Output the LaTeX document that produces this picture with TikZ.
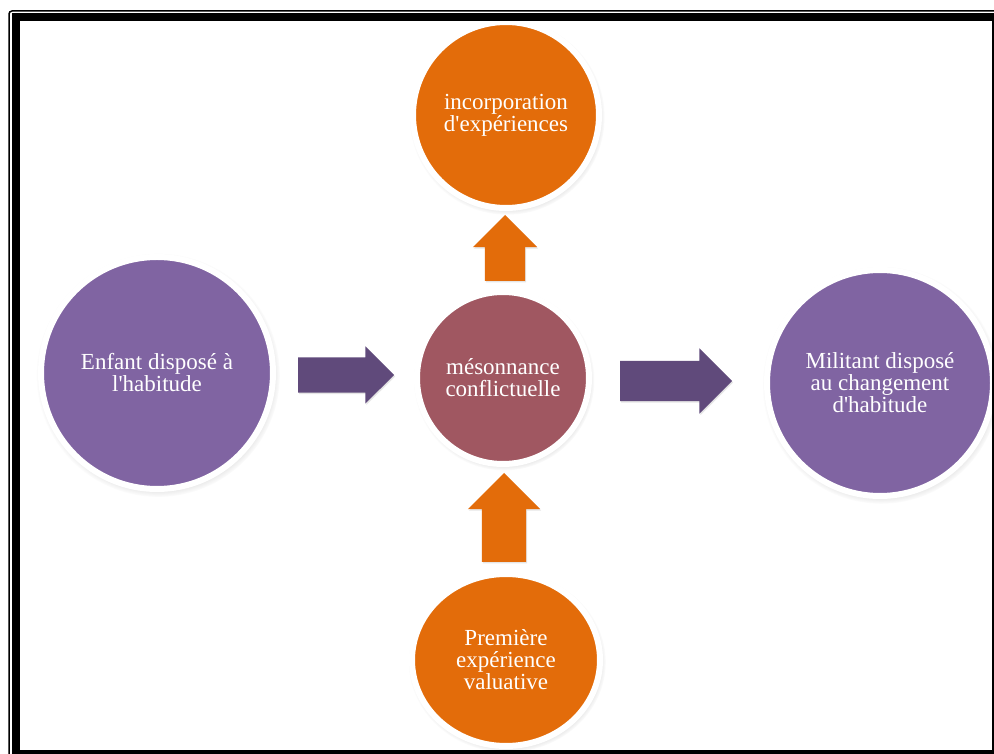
\documentclass[tikz,border=0pt]{standalone}
\usepackage{fontspec}
\setmainfont{Liberation Serif}
\usetikzlibrary{shapes.geometric,shapes.arrows,shadows,calc}

\begin{document}
\begin{tikzpicture}[x=1pt,y=1pt,
  bubble/.style={circle,draw=white,line width=6pt,text=white,align=center,
    font=\fontsize{23}{22}\selectfont,inner sep=0pt,outer sep=0pt,
    circular drop shadow={shadow scale=1.05,shadow xshift=1pt,shadow yshift=-2pt,opacity=0.45}},
  blockarrow/.style={single arrow,outer sep=0pt,anchor=tip,
    single arrow tip angle=90,
    drop shadow={shadow xshift=1pt,shadow yshift=-1.5pt,opacity=0.2}}]
\definecolor{orangeColor}{RGB}{227,108,10}
\definecolor{purpleColor}{RGB}{128,100,162}
\definecolor{arrowColor}{RGB}{96,74,123}
\definecolor{roseColor}{RGB}{160,87,97}
\path[use as bounding box,fill=white] (0,0) rectangle (994,753);

% circles
\node[bubble,fill=purpleColor,minimum size=232pt] (enfant) at (157,380) {Enfant disposé à\\l\textquotesingle habitude};
\node[bubble,fill=roseColor,minimum size=172pt] (meso) at (503,375) {mésonnance\\conflictuelle};
\node[bubble,fill=orangeColor,minimum size=186pt] (incorp) at (506,638) {incorporation\\d\textquotesingle expériences};
\node[bubble,fill=purpleColor,minimum size=226pt] (militant) at (880,370) {Militant disposé\\au changement\\d\textquotesingle habitude};
\node[bubble,ellipse,fill=orangeColor,minimum width=188pt,minimum height=172pt] (premiere) at (506,93) {Première\\expérience\\valuative};

% block arrows
\node[blockarrow,fill=arrowColor,inner sep=17.5pt,minimum height=96pt,minimum width=57pt,
  single arrow head extend=11pt] (arrLeft) at ($(meso.west)+(-23,3)$) {};
\node[blockarrow,fill=arrowColor,inner sep=20pt,minimum height=112pt,minimum width=65pt,
  single arrow head extend=12.5pt] (arrRight) at ($(militant.west)+(-35,2)$) {};
\node[blockarrow,fill=orangeColor,shape border rotate=90,inner sep=20pt,minimum height=66pt,minimum width=64pt,
  single arrow head extend=12pt] (arrUp) at ($(incorp.south)+(-1,-7)$) {};
\node[blockarrow,fill=orangeColor,shape border rotate=90,inner sep=22pt,minimum height=89pt,minimum width=72pt,
  single arrow head extend=14pt] (arrIn) at ($(meso.south)+(1,-9)$) {};

% frame
\draw[line width=8pt] (16,-1) rectangle (996,736);
\draw[line width=1.5pt,rounded corners=3pt] (9,-8) rectangle (1003,742);
\end{tikzpicture}
\end{document}
